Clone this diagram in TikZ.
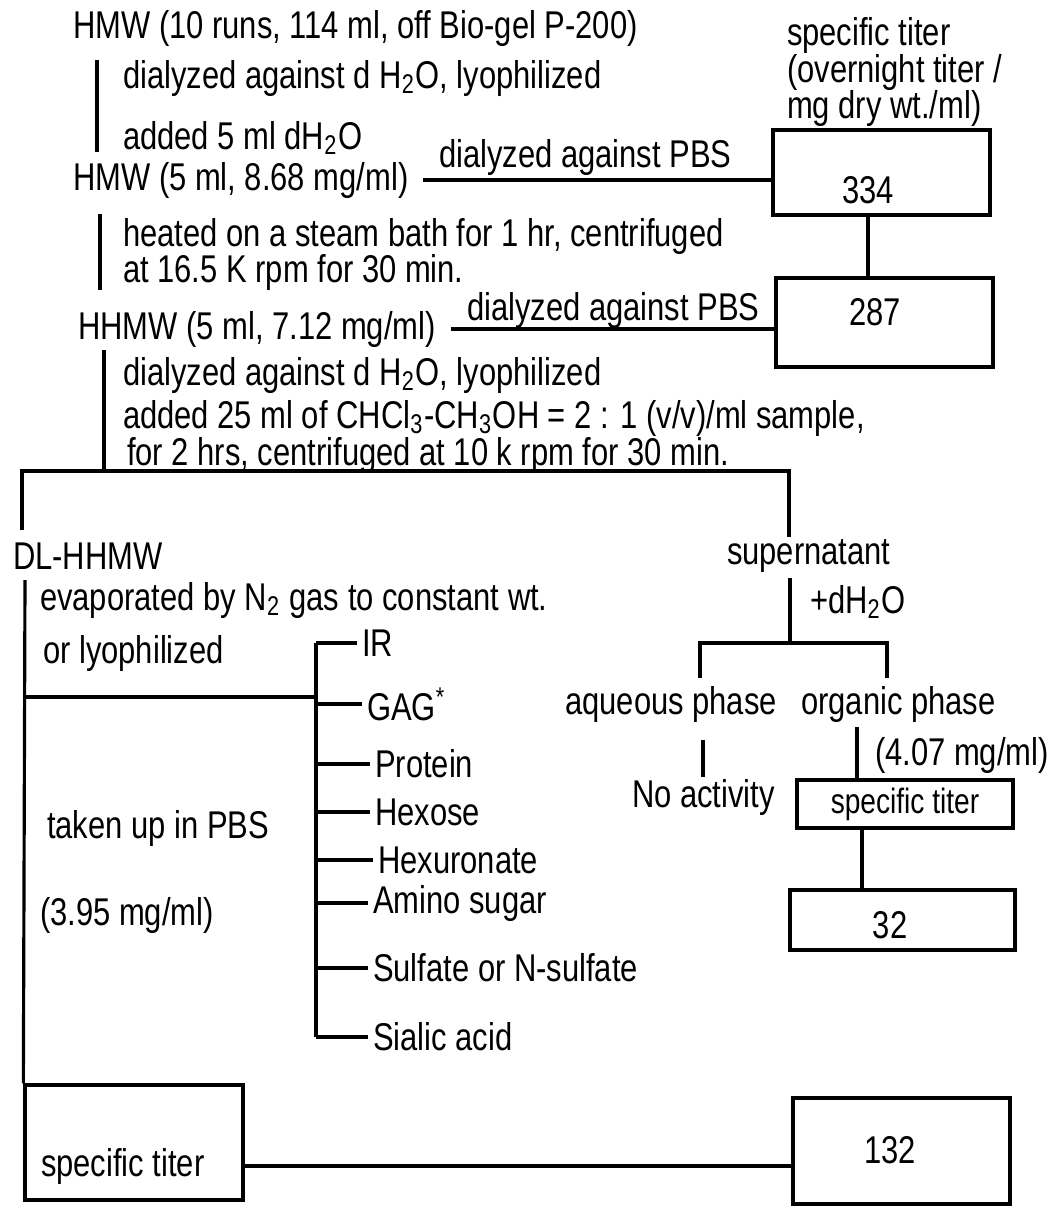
\documentclass[tikz,border=0pt]{standalone}
\usepackage{fontspec}
\setmainfont{Liberation Sans}[FakeStretch=0.8]
\usetikzlibrary{positioning}

\begin{document}
\begin{tikzpicture}[x=0.01cm, y=-0.01cm, line width=0.9pt,
    txt/.style={anchor=west, inner sep=1pt, font=\fontsize{11}{10.5}\selectfont},
    num/.style={inner sep=1pt, font=\fontsize{11}{10.5}\selectfont},
    box/.style={draw, line width=0.9pt, inner sep=0pt}]
  \useasboundingbox (0,0) rectangle (1064,1206);
  % premiere purification
  \node[txt] (hmw1) at (68,28) {HMW (10 runs, 114 ml, off Bio-gel P-200)};
  \node[txt, align=left, anchor=north west] (hdr) at (782,12) {specific titer\\(overnight titer /\\mg dry wt./ml)};
  \draw (97,60) -- (97,152);
  \node[txt] (dial1) at (118,78) {dialyzed against d H\textsubscript{2}O, lyophilized};
  \node[txt] (add1) at (118,138) {added 5 ml dH\textsubscript{2}O};
  \node[txt] (hmw2) at (68,180) {HMW (5 ml, 8.68 mg/ml)};
  \node[box, minimum width=2.17cm, minimum height=0.85cm] (b334) at (881.5,172.5) {};
  \node[num] (n334) at (868,190) {334};
  \draw (hmw2.east) ++(0.1cm,0) -- (hmw2.east -| b334.west);
  \node[txt] (pbs1) at (434,157) {dialyzed against PBS};
  % chauffage
  \draw (100,214) -- (100,290);
  \node[txt] (heat1) at (118,236) {heated on a steam bath for 1 hr, centrifuged};
  \node[txt] (heat2) at (118,272) {at 16.5 K rpm for 30 min.};
  \node[txt] (hhmw) at (73,329) {HHMW (5 ml, 7.12 mg/ml)};
  \node[box, minimum width=2.17cm, minimum height=0.89cm] (b287) at (884.5,322.5) {};
  \node[num] (n287) at (875,312) {287};
  \draw (b334.south -| n334) -- (b287.north -| n334);
  \draw (hhmw.east) ++(0.1cm,0) -- (hhmw.east -| b287.west);
  \node[txt] (pbs2) at (462,310) {dialyzed against PBS};
  % delipidation
  \draw (104,350) -- (104,471);
  \node[txt] (dial2) at (118,375) {dialyzed against d H\textsubscript{2}O, lyophilized};
  \node[txt] (add2) at (118,418) {added 25 ml of CHCl\textsubscript{3}-CH\textsubscript{3}OH = 2 : 1 (v/v)/ml sample,};
  \node[txt] (cent2) at (122,455) {for 2 hrs, centrifuged at 10 k rpm for 30 min.};
  \draw (22,530) -- (22,471) -- (789,471) -- (789,537);
  \node[txt] (dl) at (8,556) {DL-HHMW};
  \node[txt] (sup) at (722,556) {supernatant};
  % branche gauche
  \node[txt] (evap) at (35,600) {evaporated by N\textsubscript{2} gas to constant wt.};
  \node[txt] (lyo) at (38,653) {or lyophilized};
  \node[txt] (pbs3) at (42,828) {taken up in PBS};
  \node[txt] (conc1) at (35,915) {(3.95 mg/ml)};
  \node[box, minimum width=2.18cm, minimum height=1.15cm] (tit) at (134,1142.5) {};
  \node[txt] (tittxt) at (36,1166) {specific titer};
  \draw (25,580) -- (tit.north west);
  \draw (25,697) -- (316,697);
  \draw (316,643) -- (316,1037);
  \foreach \name/\y/\x/\t in {ir/643/357/IR, gag/704/362/GAG\textsuperscript{*}, prot/764/370/Protein,
      hex/812/370/Hexose, hexu/860/373/Hexuronate, amino/903/368/Amino sugar,
      sulf/968/368/Sulfate or N-sulfate, sial/1037/368/Sialic acid}{
    \node[txt] (\name) at (\x,\y) {\t};
    \draw (316,\y) -- (\name.west);
  }
  \node[box, minimum width=2.17cm, minimum height=1.06cm] (b132) at (901.5,1151) {};
  \node[num] (n132) at (890,1150) {132};
  \draw (tit.east |- tittxt) -- (b132.west |- tittxt);
  % branche droite
  \draw (790,578) -- (790,643);
  \node[txt] (dh) at (805,602) {+dH\textsubscript{2}O};
  \draw (700,678) -- (700,643) -- (887,643) -- (887,678);
  \node[txt, anchor=east] (aq) at (782,704) {aqueous phase};
  \node[txt] (org) at (796,704) {organic phase};
  \draw (703,740) -- (703,777);
  \node[txt] (noact) at (627,797) {No activity};
  \node[txt] (conc2) at (870,755) {(4.07 mg/ml)};
  \node[box, minimum width=2.16cm, minimum height=0.48cm, font=\fontsize{10}{10}\selectfont] (sbox) at (905,804) {specific titer};
  \draw (857,727) -- (sbox.north -| 857,0);
  \node[box, minimum width=2.25cm, minimum height=0.6cm] (b32) at (902.5,920) {};
  \node[num] (n32) at (890,925) {32};
  \draw (sbox.south -| 862,0) -- (b32.north -| 862,0);
\end{tikzpicture}
\end{document}
